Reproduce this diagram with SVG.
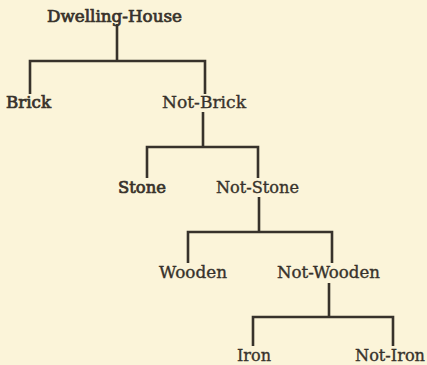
<svg xmlns="http://www.w3.org/2000/svg" width="427" height="365" viewBox="0 0 427 365">
  <style>
    .bg { fill: #fbf4d9; }
    .lbl { font-family: "DejaVu Serif", "Liberation Serif", serif; font-size: 16px; fill: #37322b; stroke: #37322b; stroke-width: 0.35; }
    .b { stroke-width: 0.7; }
    .ln { fill: none; stroke: #37322b; stroke-width: 2.6; stroke-linecap: butt; stroke-linejoin: miter; }
  </style>
  <rect class="bg" x="0" y="0" width="427" height="365"/>

  <!-- dichotomy brackets -->
  <g id="connectors">
    <path class="ln" d="M117,24 V61"/>
    <path class="ln" d="M30,94 V61 H205 V94"/>
    <path class="ln" d="M203,112 V147"/>
    <path class="ln" d="M147,178 V147 H258 V178"/>
    <path class="ln" d="M259,197 V232"/>
    <path class="ln" d="M188,263 V232 H332 V263"/>
    <path class="ln" d="M329,283 V317"/>
    <path class="ln" d="M253,346 V317 H393 V346"/>
  </g>

  <g id="dwelling-house"><text class="lbl b" x="47" y="22" textLength="135" lengthAdjust="spacingAndGlyphs">Dwelling-House</text></g>
  <g id="brick"><text class="lbl b" x="6" y="108" textLength="45" lengthAdjust="spacingAndGlyphs">Brick</text></g>
  <g id="not-brick"><text class="lbl" x="162" y="108" textLength="84" lengthAdjust="spacingAndGlyphs">Not-Brick</text></g>
  <g id="stone"><text class="lbl b" x="118" y="193" textLength="48" lengthAdjust="spacingAndGlyphs">Stone</text></g>
  <g id="not-stone"><text class="lbl" x="216" y="193" textLength="83" lengthAdjust="spacingAndGlyphs">Not-Stone</text></g>
  <g id="wooden"><text class="lbl" x="159" y="278" textLength="68" lengthAdjust="spacingAndGlyphs">Wooden</text></g>
  <g id="not-wooden"><text class="lbl" x="277" y="278" textLength="103" lengthAdjust="spacingAndGlyphs">Not-Wooden</text></g>
  <g id="iron"><text class="lbl" x="237" y="361" textLength="34" lengthAdjust="spacingAndGlyphs">Iron</text></g>
  <g id="not-iron"><text class="lbl" x="355" y="361" textLength="70" lengthAdjust="spacingAndGlyphs">Not-Iron</text></g>
</svg>
